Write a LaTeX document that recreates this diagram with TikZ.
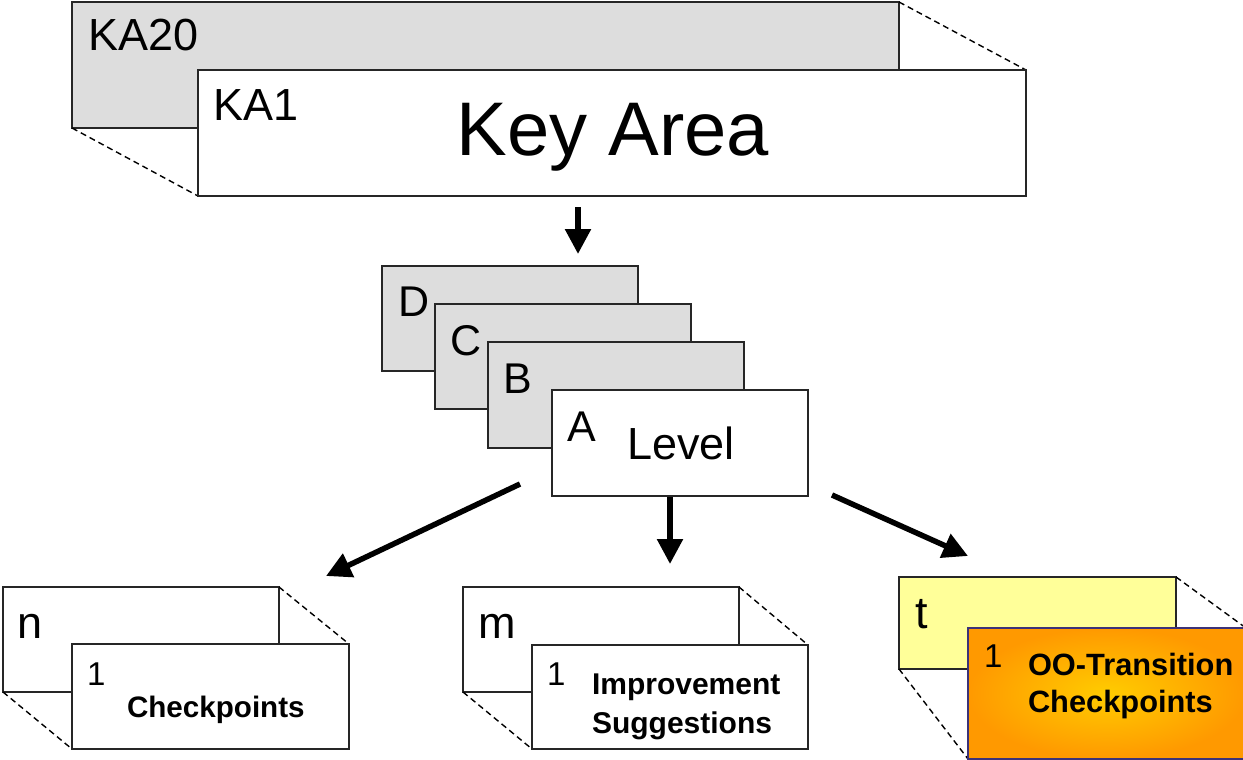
\documentclass[tikz,border=0pt]{standalone}
\usepackage{fontspec}
\setmainfont{Liberation Sans}
\usetikzlibrary{arrows.meta}
\definecolor{boxgray}{HTML}{DDDDDD}
\definecolor{paleyellow}{HTML}{FFFF99}
\definecolor{orangein}{HTML}{FFCC00}
\definecolor{orangeout}{HTML}{FF9900}
\definecolor{navyline}{RGB}{60,50,120}
\tikzset{
  card/.style={draw=black!85, line width=0.75pt, inner sep=0pt, outer sep=0pt, fill=white},
  graycard/.style={card, fill=boxgray},
  yellowcard/.style={card, fill=paleyellow},
  orangecard/.style={draw=navyline, line width=0.75pt, inner sep=0pt, outer sep=0pt, inner color=orangein, outer color=orangeout},
  depth/.style={line width=0.7pt, dash pattern=on 3pt off 2pt},
  arr/.style={line width=2.75pt, -{Triangle[length=12.5pt, width=12.5pt]}},
  lbl/.style={anchor=base west, inner sep=0pt, outer sep=0pt},
  bigl/.style={lbl, font=\fontsize{22.5}{27}\selectfont},
  levl/.style={lbl, font=\fontsize{21.5}{26}\selectfont},
  cntl/.style={lbl, font=\fontsize{22.5}{27}\selectfont},
  onel/.style={lbl, font=\fontsize{16.5}{20}\selectfont},
  boldl/.style={lbl, align=left, font=\fontsize{14.5}{19.5}\selectfont\bfseries},
}
\begin{document}
\begin{tikzpicture}[x=0.5pt, y=-0.5pt]
\useasboundingbox (0,0) rectangle (1243,760);
\clip (0,0) rectangle (1243,760);

% Key area stack
\node[graycard, minimum width=413.5pt, minimum height=63pt] (ka20) at (485.5,65) {};
\draw[depth] (ka20.north east) -- (1026,70) coordinate (ka1ne);
\draw[depth] (ka20.south west) -- (198,196) coordinate (ka1sw);
\node[card, minimum width=414pt, minimum height=63pt] (ka1) at (612,133) {};
\node[bigl] (ka20t) at (88,50) {KA20};
\node[bigl] (ka1t) at (213,120) {KA1};
\node[anchor=base, inner sep=0pt, font=\fontsize{38}{44}\selectfont] (keyarea) at (613,155) {Key Area};

% Level stack
\node[graycard, minimum width=128pt, minimum height=52.5pt] (lvD) at (510,318.5) {};
\node[graycard, minimum width=128pt, minimum height=52.5pt] (lvC) at (563,356.5) {};
\node[graycard, minimum width=128pt, minimum height=53pt] (lvB) at (616,395) {};
\node[card, minimum width=128pt, minimum height=53pt] (lvA) at (680,443) {};
\node[levl] (tD) at (398,316) {D};
\node[levl] (tC) at (450,355) {C};
\node[levl] (tB) at (503,393) {B};
\node[levl] (tA) at (567,441) {A};
\node[lbl, font=\fontsize{22.5}{27}\selectfont] (tLevel) at (627,459) {Level};

% Checkpoints stack
\node[card, minimum width=138pt, minimum height=52.5pt] (nback) at (141,639.5) {};
\draw[depth] (nback.north east) -- (349,644) coordinate (nfne);
\draw[depth] (nback.south west) -- (72,749) coordinate (nfsw);
\node[card, minimum width=138.5pt, minimum height=52.5pt] (nfront) at (210.5,696.5) {};
\node[cntl] (tn) at (18,638) {n};
\node[onel] (tn1) at (87,685) {1};
\node[boldl, font=\fontsize{14.8}{19.5}\selectfont\bfseries] (tcheck) at (127,717) {Checkpoints};

% Improvement suggestions stack
\node[card, minimum width=138pt, minimum height=52.5pt] (mback) at (601,639.5) {};
\draw[depth] (mback.north east) -- (808,645) coordinate (mfne);
\draw[depth] (mback.south west) -- (532,749) coordinate (mfsw);
\node[card, minimum width=138pt, minimum height=52pt] (mfront) at (670,697) {};
\node[cntl] (tm) at (478,638) {m};
\node[onel] (tm1) at (547,685) {1};
\node[boldl, font=\fontsize{15}{19.5}\selectfont\bfseries] (timpr) at (592,733) {Improvement\\Suggestions};

% OO-transition stack
\node[yellowcard, minimum width=138.5pt, minimum height=46pt] (tback) at (1037.5,623) {};
\draw[depth] (tback.north east) -- (1246,628) coordinate (tfne);
\draw[depth] (tback.south west) -- (968,759) coordinate (tfsw);
\node[orangecard, minimum width=139pt, minimum height=65.5pt] (tfront) at (1107,693.5) {};
\node[cntl] (tt) at (915,628) {t};
\node[onel] (tt1) at (984,667) {1};
\node[boldl, font=\fontsize{15.4}{18.5}\selectfont\bfseries] (toot) at (1028,712) {OO-Transition\\Checkpoints};

% Arrows
\coordinate (a1s) at (578,207);
\coordinate (a1e) at (578,254);
\draw[arr] (a1s) -- (a1e);
\coordinate (a2s) at (520,484);
\coordinate (a2e) at (326,576);
\draw[arr] (a2s) -- (a2e);
\coordinate (a3s) at (670,497);
\coordinate (a3e) at (670,564);
\draw[arr] (a3s) -- (a3e);
\coordinate (a4s) at (832,495);
\coordinate (a4e) at (968,556);
\draw[arr] (a4s) -- (a4e);
\end{tikzpicture}
\end{document}
